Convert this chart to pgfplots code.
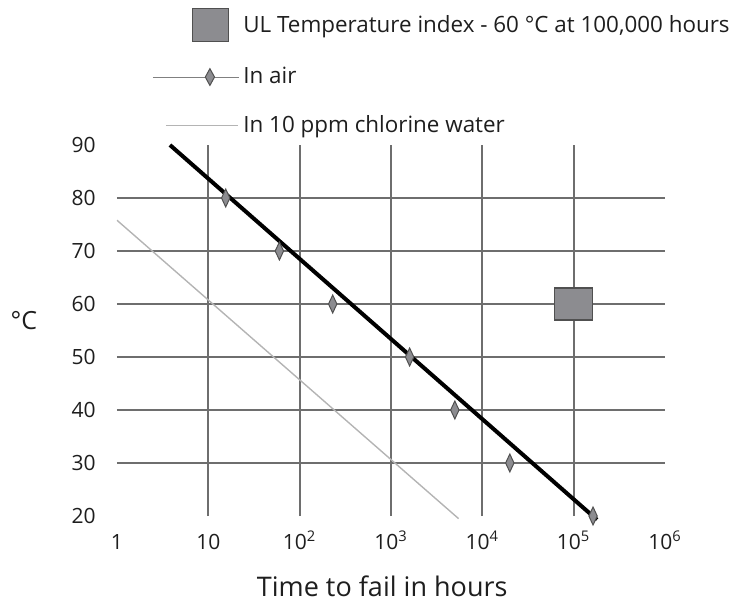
\documentclass[border=0pt]{standalone}
\usepackage{pgfplots}
\pgfplotsset{compat=1.18}
\usepackage{fontspec}
\setmainfont{Open Sans}
\definecolor{gridc}{HTML}{6E6E6E}
\definecolor{markfill}{HTML}{8C8C90}
\definecolor{markdraw}{HTML}{505050}
\definecolor{chl}{HTML}{B4B4B4}
\definecolor{txt}{HTML}{1E1E1E}
\begin{document}
\begin{tikzpicture}
\useasboundingbox (-58.5pt,-43pt) rectangle (309.5pt,258pt);
\begin{axis}[
  scale only axis, width=274pt, height=185.5pt,
  xmode=log, xmin=1, xmax=1e6, ymin=20, ymax=90,
  axis line style={draw=none},
  major tick length=0pt, minor tick length=0pt,
  xtick={1,10,100,1000,10000,100000,1000000},
  xticklabels={1,10,10\textsuperscript{2},10\textsuperscript{3},10\textsuperscript{4},10\textsuperscript{5},10\textsuperscript{6}},
  ytick={20,30,40,50,60,70,80,90},
  yticklabels={20,30,40,50,60,70,80,90},
  extra x ticks={10,100,1000,10000,100000},
  extra x tick labels={},
  extra y ticks={30,40,50,60,70,80},
  extra y tick labels={},
  extra tick style={grid=major},
  major grid style={draw=gridc, line width=0.85pt},
  xticklabel style={anchor=base, yshift=-16.5pt, inner sep=0pt, text=txt, font=\fontsize{10.5}{12}\selectfont},
  yticklabel style={anchor=east, xshift=-10.5pt, inner sep=0pt, text=txt, font=\fontsize{10.5}{12}\selectfont},
  xlabel={Time to fail in hours},
  xlabel style={at={(axis description cs:0.484,-0.19)}, anchor=center, inner sep=0pt, text=txt, font=\fontsize{13.5}{15}\selectfont},
  ylabel={°C},
  ylabel style={rotate=-90, at={(axis description cs:-0.17,0.528)}, anchor=center, text=txt, font=\fontsize{12.5}{14}\selectfont},
  clip=false,
  legend cell align=left,
  legend style={at={(axis description cs:0.0639,1.37)}, anchor=north west, draw=none, fill=none,
    inner sep=0pt, row sep=10.5pt, text=txt, font=\fontsize{11.2}{13}\selectfont},
]
\addplot[black, line width=2pt, forget plot] coordinates {(3.8,90) (1.8e5,19.3)};
\addplot[only marks, mark=square*, mark size=8pt,
  mark options={xscale=1.19, fill=markfill, draw=markdraw, line width=0.6pt},
  legend image code/.code={\draw[fill=markfill, draw=markdraw, line width=0.6pt] (19.75pt,-8.25pt) rectangle (37.75pt,8.25pt);}]
  coordinates {(1e5,60)};
\addlegendentry{UL Temperature index - 60 °C at 100,000 hours}
\addplot[only marks, mark=diamond*, mark size=4.5pt,
  mark options={xscale=0.62, fill=markfill, draw=markdraw, line width=0.5pt},
  legend image code/.code={\draw[draw=gray, line width=0.5pt] (0pt,0pt) -- (43pt,0pt);
    \draw[fill=markfill, draw=markdraw, line width=0.5pt] (28.5pt,4.2pt) -- (30.8pt,0pt) -- (28.5pt,-4.2pt) -- (26.2pt,0pt) -- cycle;}]
  coordinates {(15.5,80) (60,70) (230,60) (1600,50) (5000,40) (2e4,30) (1.63e5,20)};
\addlegendentry{In air}
\addplot[chl, line width=0.7pt,
  legend image code/.code={\draw[chl, line width=0.7pt] (6.5pt,0pt) -- (42.5pt,0pt);}]
  coordinates {(1,75.8) (5500,19.5)};
\addlegendentry{In 10 ppm chlorine water}
\end{axis}
\end{tikzpicture}
\end{document}
